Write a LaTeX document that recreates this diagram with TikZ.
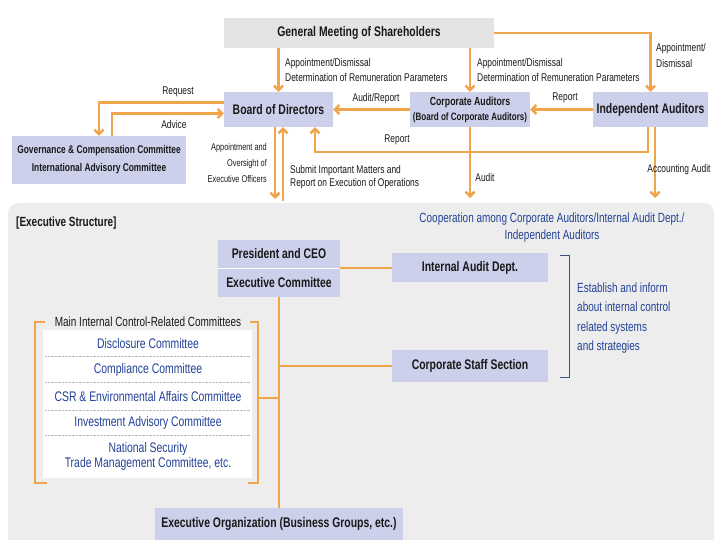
\documentclass[tikz,border=0pt]{standalone}
\usepackage{fontspec}
\setmainfont{Liberation Sans}[FakeStretch=0.75]
\usetikzlibrary{calc, positioning, arrows.meta}

\definecolor{flow}{RGB}{240,165,75}
\definecolor{boxfill}{RGB}{205,208,235}
\definecolor{panel}{RGB}{237,237,237}
\definecolor{gmfill}{RGB}{228,228,228}
\definecolor{infoblue}{RGB}{35,65,150}
\definecolor{brk}{RGB}{60,80,130}
\definecolor{ink}{RGB}{25,25,25}

\tikzset{
  unit/.style={fill=boxfill, text=ink, inner sep=0pt, align=center,
    font=\fontsize{13.9}{15}\selectfont\bfseries},
  flow/.style={draw=flow, line width=2.5pt},
  flowarrow/.style={flow, -{Straight Barb[length=4.5pt,width=9pt]}},
  lbl/.style={text=ink, inner sep=0pt, align=left,
    font=\fontsize{11.2}{15}\selectfont},
  comm/.style={text=infoblue, inner sep=0pt, align=center,
    font=\fontsize{13.9}{15}\selectfont},
}

\begin{document}
\begin{tikzpicture}[x=1pt, y=-1pt]
\useasboundingbox (0,0) rectangle (720,540);
% Executive structure panel
\fill[panel, rounded corners=10pt] (8,203) rectangle (714,560);
\node[anchor=west, text=ink, inner sep=0pt, font=\fontsize{13.3}{15}\selectfont\bfseries] (exhead) at (16,223) {[Executive Structure]};
% Governance boxes
\node[unit, fill=gmfill, minimum width=270, minimum height=30] (gms) at (359,33) {General Meeting of Shareholders};
\node[unit, minimum width=109, minimum height=35] (board) at (278.5,109.5) {Board of Directors};
\node[unit, minimum width=120, minimum height=35, font=\fontsize{11.7}{15}\selectfont\bfseries] (corpaud) at (470,109.5) {Corporate Auditors\\{\fontsize{10.7}{12}\selectfont(Board of Corporate Auditors)}};
\node[unit, minimum width=115, minimum height=35] (indaud) at (650.5,109.5) {Independent Auditors};
\node[unit, minimum width=174, minimum height=48, font=\fontsize{11.2}{18}\selectfont\bfseries] (govcomm) at (99,160) {Governance \& Compensation Committee\\International Advisory Committee};
% Executive boxes
\node[unit, minimum width=122, minimum height=28] (ceo) at (279,254) {President and CEO};
\node[unit, minimum width=122, minimum height=28] (execcomm) at (279,282.5) {Executive Committee};
\draw[white, line width=0.8pt] (ceo.south west) -- (ceo.south east);
\node[unit, minimum width=156, minimum height=29] (iad) at (470,267.5) {Internal Audit Dept.};
\node[unit, minimum width=156, minimum height=32] (staff) at (470,366) {Corporate Staff Section};
\node[unit, minimum width=248, minimum height=32] (execorg) at (279,524) {Executive Organization (Business Groups, etc.)};
% Committees list
\fill[white] (43,330) rectangle (252,478);
\foreach \y in {356,382,410,435}
  \draw[gray!55, densely dotted] (45,\y) -- (250,\y);
\node[text=ink, inner sep=0pt, font=\fontsize{13.3}{15}\selectfont] (commtitle) at (148,322) {Main Internal Control-Related Committees};
\node[comm] (disc) at (148,344) {Disclosure Committee};
\node[comm] (compl) at (148,370) {Compliance Committee};
\node[comm] (csr) at (148,397) {CSR \& Environmental Affairs Committee};
\node[comm] (invest) at (148,423) {Investment Advisory Committee};
\node[comm] (natsec) at (148,456) {National Security\\Trade Management Committee, etc.};
\draw[flow, line width=2pt] (45,322) -- (35,322) -- (35,483) -- (47,483);
\draw[flow, line width=2pt] (250,322) -- (258,322) -- (258,483) -- (248,483);
\coordinate (brkjoin) at (258,398);
% Blue notes
\node[text=infoblue, inner sep=0pt, align=center, font=\fontsize{13.3}{17}\selectfont] (coop) at (552,228) {Cooperation among Corporate Auditors/Internal Audit Dept./\\Independent Auditors};
\node[anchor=west, text=infoblue, inner sep=0pt, align=left, font=\fontsize{13.3}{19.3}\selectfont] (establish) at (577,318) {Establish and inform\\about internal control\\related systems\\and strategies};
\draw[brk, line width=1pt] (560,255) -- (569,255) -- (569,377) -- (560,377);
% Free ends
\coordinate (aodown) at (275,199);
\coordinate (subup) at (283,201);
\coordinate (repcorner) at (315,152);
\coordinate (accend) at (655,198);
\coordinate (audend) at (470,198);
% Arrows from shareholders
\draw[flowarrow] (board |- gms.south) -- (board.north);
\draw[flowarrow] (corpaud |- gms.south) -- (corpaud.north);
\draw[flowarrow] (gms.east) -| (indaud.north);
% Auditor reports
\draw[flowarrow] (corpaud.west) -- (board.east);
\draw[flowarrow] (indaud.west) -- (corpaud.east);
\draw[flowarrow] ([xshift=-2.5pt]indaud.south) |- (repcorner) -- (repcorner |- board.south);
\draw[flowarrow] (indaud.south -| accend) -- (accend);
\draw[flowarrow] (corpaud.south) -- (audend);
% Request and advice
\draw[flowarrow] ([yshift=7pt]board.west) -| (govcomm.north);
\draw[flowarrow] ([xshift=13pt]govcomm.north) |- ([yshift=-4pt]board.west);
% Board and executives
\draw[flowarrow] (board.south -| aodown) -- (aodown);
\draw[flowarrow] (subup) -- (subup |- board.south);
% Executive lines
\draw[flow] (ceo.south east) -- (ceo.south east -| iad.west);
\draw[flow] (execcomm.south) -- (execorg.north);
\draw[flow] (execcomm.south |- staff.west) -- (staff.west);
\draw[flow] (brkjoin) -- (brkjoin -| execcomm.south);
% Labels
\node[lbl, anchor=west] (lapp1) at (285,70) {Appointment/Dismissal\\Determination of Remuneration Parameters};
\node[lbl, anchor=west] (lapp2) at (477,70) {Appointment/Dismissal\\Determination of Remuneration Parameters};
\node[lbl, anchor=west, font=\fontsize{11.2}{16}\selectfont] (lapp3) at (656,55) {Appointment/\\Dismissal};
\node[lbl] (laudrep) at (376,99) {Audit/Report};
\node[lbl] (lrep1) at (565,98) {Report};
\node[lbl] (lrep2) at (397,140) {Report};
\node[lbl] (lreq) at (178,92) {Request};
\node[lbl] (ladv) at (174,124) {Advice};
\node[lbl, anchor=east, align=right, font=\fontsize{9.8}{16}\selectfont] (lappov) at (267,163) {Appointment and\\Oversight of\\Executive Officers};
\node[lbl, anchor=west, font=\fontsize{11.2}{13}\selectfont] (lsubmit) at (290,177.5) {Submit Important Matters and\\Report on Execution of Operations};
\node[lbl] (laudit) at (485,177) {Audit};
\node[lbl] (lacc) at (679,170) {Accounting Audit};
\end{tikzpicture}
\end{document}
